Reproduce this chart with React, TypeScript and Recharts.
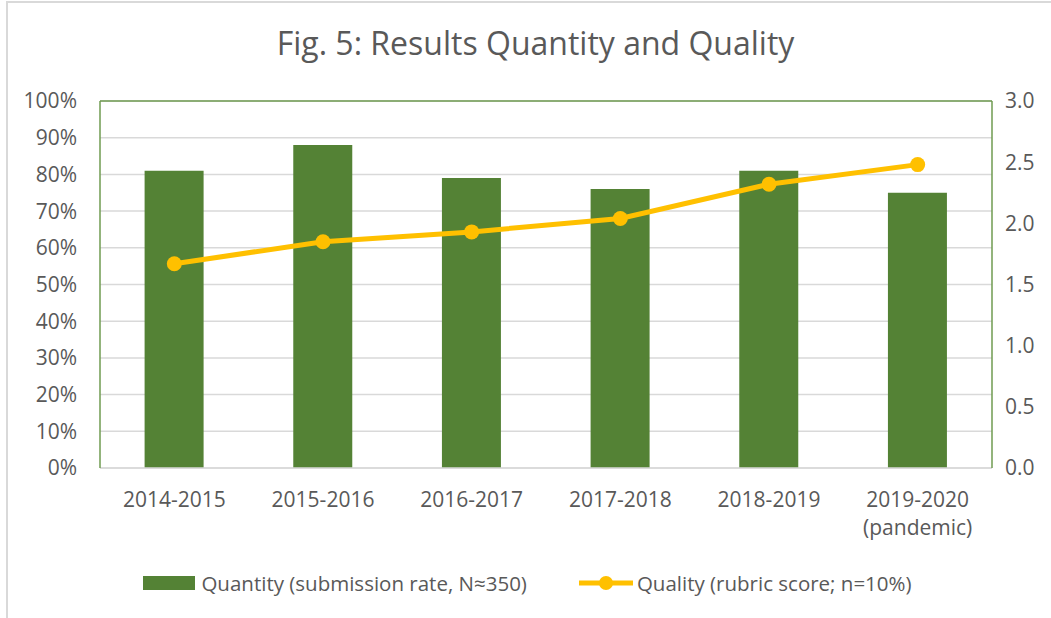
import React from 'react';
import {
  ComposedChart,
  Bar,
  Line,
  XAxis,
  YAxis,
  CartesianGrid,
  Legend,
  ReferenceLine,
} from 'recharts';

const categories = ['2014-2015', '2015-2016', '2016-2017', '2017-2018', '2018-2019', '2019-2020\n(pandemic)'];
const quantity = [81, 88, 79, 76, 81, 75];
const quality = [1.67, 1.85, 1.93, 2.04, 2.32, 2.48];
const leftTicks = [0, 10, 20, 30, 40, 50, 60, 70, 80, 90, 100];
const rightTicks = [0, 0.5, 1, 1.5, 2, 2.5, 3];

const data = categories.map((c, i) => ({ year: c, quantity: quantity[i], quality: quality[i] }));

const FONT = '"Open Sans", sans-serif';
const TEXT = '#595959';
const GREEN = '#548235';
const BORDER = '#6f9b50';
const GOLD = '#FFC000';
const FS = 21;

const CategoryTick = (props: any) => {
  const { x, y, payload } = props;
  const lines = String(payload.value).split('\n');
  return (
    <g transform={`translate(${x},${y})`}>
      {lines.map((l, i) => (
        <text key={i} x={0} y={i * 28} dy={31} textAnchor="middle" fill={TEXT} fontSize={FS} fontFamily={FONT}>
          {l}
        </text>
      ))}
    </g>
  );
};

const LegendContent = () => (
  <div
    style={{
      display: 'flex',
      justifyContent: 'center',
      alignItems: 'center',
      height: 40,
      fontFamily: FONT,
      fontSize: 20.5,
      color: TEXT,
      paddingLeft: 4,
    }}
  >
    <span style={{ display: 'inline-block', width: 52, height: 14, background: GREEN, marginRight: 6 }} />
    <span>Quantity (submission rate, N≈350)</span>
    <svg width={54} height={16} style={{ marginLeft: 52, marginRight: 4 }}>
      <line x1={0} y1={8} x2={54} y2={8} stroke={GOLD} strokeWidth={5} />
      <circle cx={27} cy={8} r={7} fill={GOLD} />
    </svg>
    <span>Quality (rubric score; n=10%)</span>
  </div>
);

export default function App() {
  return (
    <div style={{ position: 'absolute', left: 0, top: 0, width: 1051, height: 618, background: '#fff' }}>
      <div
        style={{
          position: 'absolute',
          left: 6,
          top: 1,
          right: 0,
          bottom: 0,
          borderLeft: '2px solid #d9d9d9',
          borderTop: '2px solid #d9d9d9',
        }}
      />
      <div
        style={{
          position: 'absolute',
          top: 21,
          left: 0,
          width: 1071,
          textAlign: 'center',
          fontFamily: FONT,
          fontSize: 32,
          color: TEXT,
        }}
      >
        Fig. 5: Results Quantity and Quality
      </div>
      <ComposedChart
        width={1051}
        height={618}
        data={data}
        margin={{ top: 101, right: 0, bottom: 15, left: 0 }}
        barCategoryGap="30%"
      >
        <CartesianGrid vertical={false} stroke="#d9d9d9" strokeWidth={1.5} yAxisId="left" />
        <XAxis
          dataKey="year"
          interval={0}
          height={95}
          tickLine={false}
          axisLine={{ stroke: '#d9d9d9', strokeWidth: 1.5 }}
          tick={<CategoryTick />}
        />
        <YAxis
          yAxisId="left"
          domain={[0, 100]}
          ticks={leftTicks}
          width={100}
          tickLine={false}
          tickMargin={17}
          axisLine={{ stroke: BORDER, strokeWidth: 1.5 }}
          tickFormatter={(v: number) => `${v}%`}
          tick={{ fill: TEXT, fontSize: FS, fontFamily: FONT }}
        />
        <YAxis
          yAxisId="right"
          orientation="right"
          domain={[0, 3]}
          ticks={rightTicks}
          width={59}
          tickLine={false}
          tickMargin={7}
          axisLine={{ stroke: BORDER, strokeWidth: 1.5 }}
          tickFormatter={(v: number) => v.toFixed(1)}
          tick={{ fill: TEXT, fontSize: FS, fontFamily: FONT, textAnchor: 'start' }}
        />
        <ReferenceLine yAxisId="left" y={100} stroke={BORDER} strokeWidth={1.5} />
        <Bar yAxisId="left" dataKey="quantity" fill={GREEN} isAnimationActive={false} />
        <Line
          yAxisId="right"
          dataKey="quality"
          stroke={GOLD}
          strokeWidth={5}
          dot={{ r: 7.5, fill: GOLD, stroke: GOLD, strokeWidth: 0 }}
          activeDot={false}
          isAnimationActive={false}
        />
        <Legend verticalAlign="bottom" height={40} content={<LegendContent />} />
      </ComposedChart>
    </div>
  );
}
